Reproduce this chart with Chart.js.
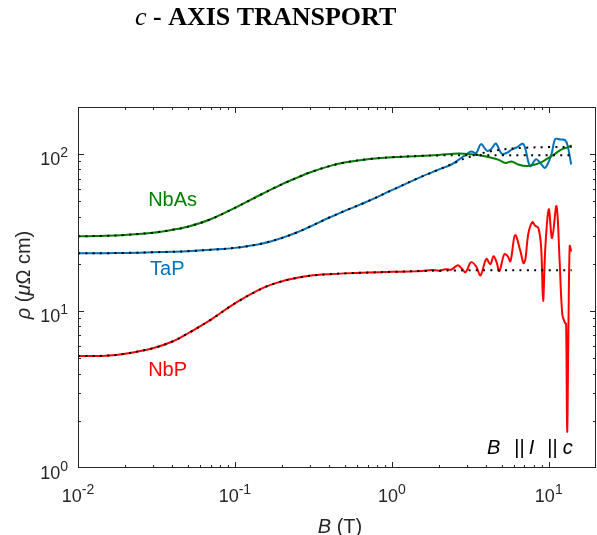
<!DOCTYPE html>
<html>
<head>
<meta charset="utf-8">
<script src="https://cdn.jsdelivr.net/npm/chart.js@4.4.0/dist/chart.umd.min.js"></script>
<style>
  html, body { margin: 0; padding: 0; background: #fff; }
  #wrap { width: 597px; height: 535px; position: relative; }
</style>
</head>
<body>
<div id="wrap"><canvas id="c" width="597" height="535"></canvas></div>
<script>
// field B in tesla, resistivity rho in micro-ohm cm
var nbasField = [0.01, 0.015, 0.02, 0.03, 0.04, 0.05, 0.07, 0.1, 0.15, 0.2, 0.25, 0.3, 0.4, 0.5, 0.7, 1, 1.5, 2, 2.66, 3.2, 3.7, 4.3, 4.8, 5.3, 5.8, 6.4, 7.2, 8.2, 9, 10, 11, 12, 13.3, 14];
var nbasRho = [30, 30.2, 30.6, 31.6, 33, 34.5, 38.5, 45.5, 56, 64.5, 71, 76.5, 84, 88.5, 93, 95.7, 97.5, 99, 101, 100, 98, 95, 92, 88, 90, 86, 84, 86, 89, 95, 101, 107, 111, 114];

var tapField = [0.01, 0.015, 0.02, 0.03, 0.04, 0.05, 0.07, 0.1, 0.15, 0.2, 0.25, 0.3, 0.4, 0.5, 0.7, 1, 1.5, 2, 2.4, 2.7, 2.95, 3.2, 3.45, 3.7, 4.05, 4.3, 4.6, 5.0, 5.4, 5.8, 6.2, 6.9, 7.6, 8.3, 8.9, 9.5, 10.4, 11, 11.8, 12.7, 13.2, 13.9];
var tapRho = [23.4, 23.4, 23.5, 23.7, 23.9, 24.1, 24.6, 25.3, 27, 29.3, 31.8, 34.5, 39.5, 43.5, 50, 59, 71, 80, 86, 93, 99, 104, 102, 116, 105, 108, 117, 101, 102, 107, 110, 116, 84, 93, 87, 82, 100, 125, 124, 123, 113, 86];

var nbpField = [0.01, 0.015, 0.02, 0.03, 0.04, 0.05, 0.07, 0.1, 0.15, 0.2, 0.25, 0.3, 0.4, 0.5, 0.7, 1, 1.3, 1.55, 1.8, 2.0, 2.2, 2.4, 2.63, 2.8, 2.95, 3.2, 3.45, 3.67, 4.0, 4.24, 4.45, 4.65, 4.85, 5.2, 5.45, 5.7, 6.1, 6.6, 6.9, 7.1, 7.4, 7.85, 8.2, 8.6, 8.95, 9.2, 9.5, 10, 10.5, 11.2, 11.7, 12.2, 12.7, 12.9, 13.1, 13.35, 13.6, 13.9];
var nbpRho = [5.17, 5.2, 5.35, 5.8, 6.4, 7.2, 8.8, 11.2, 14, 15.5, 16.3, 16.8, 17.2, 17.4, 17.6, 17.8, 17.9, 18.0, 18.3, 18.1, 18.5, 18.4, 19.6, 18.6, 17.7, 20.5, 19.2, 16.9, 21.5, 19.9, 22.4, 20.5, 18.0, 23.0, 22.5, 20.8, 30.5, 24.1, 20.2, 21.5, 30.9, 36.9, 35, 33.8, 25.2, 11.6, 25, 44.6, 29.2, 46.7, 22, 9.5, 8.4, 8.3, 1.7, 8, 26, 24];

// fitted curves (dotted)
var fitField = [0.01, 0.015, 0.02, 0.03, 0.04, 0.05, 0.07, 0.1, 0.15, 0.2, 0.25, 0.3, 0.4, 0.5, 0.7, 1, 1.5, 2, 2.5, 3, 4, 5, 7, 10, 14];
var nbasFit = [30, 30.2, 30.6, 31.6, 33, 34.5, 38.5, 45.5, 56, 64.5, 71, 76.5, 84, 88.5, 93, 95.7, 97.5, 98.3, 98.5, 98.6, 98.6, 98.6, 98.6, 98.6, 98.6];
var tapFit = [23.4, 23.4, 23.5, 23.7, 23.9, 24.1, 24.6, 25.3, 27, 29.3, 31.8, 34.5, 39.5, 43.5, 50, 59, 71, 80, 88, 95, 103, 107, 110, 111, 111.5];
var nbpFit = [5.17, 5.2, 5.35, 5.8, 6.4, 7.2, 8.8, 11.2, 14, 15.5, 16.3, 16.8, 17.2, 17.4, 17.6, 17.8, 18, 18.1, 18.15, 18.2, 18.2, 18.2, 18.2, 18.2, 18.2];

var seriesNames = ['NbAs', 'TaP', 'NbP'];
var seriesColors = ['#008000', '#0072BD', '#FF0000'];
var xTickExps = [-2, -1, 0, 1];
var yTickExps = [0, 1, 2];

// where the sample names sit, in data space
var nameAt = { NbAs: [0.028, 46.7], TaP: [0.0288, 16.9], NbP: [0.028, 3.87] };

var ink = '#262626';
var sans = '"Liberation Sans", Arial, sans-serif';

function pts(xs, ys) {
  return xs.map(function(x, i) { return { x: x, y: ys[i] }; });
}

function dataLine(field, rho, color) {
  return {
    data: pts(field, rho),
    borderColor: color,
    borderWidth: 2,
    pointRadius: 0,
    showLine: true,
    tension: 0.35,
    order: 2
  };
}

function fitLine(values) {
  return {
    data: pts(fitField, values),
    borderColor: '#000',
    borderWidth: 2,
    borderDash: [2, 5.3],
    pointRadius: 0,
    showLine: true,
    tension: 0.35,
    order: 1
  };
}

// draws "10" with a raised exponent
function powLabel(ctx, exp, x, y, align) {
  var base = '10', sup = String(exp);
  ctx.font = '18px ' + sans;
  var bw = ctx.measureText(base).width;
  ctx.font = '14px ' + sans;
  var sw = ctx.measureText(sup).width;
  var left = align === 'center' ? x - (bw + sw) / 2 : x - bw - sw;
  ctx.font = '18px ' + sans;
  ctx.fillText(base, left, y);
  ctx.font = '14px ' + sans;
  ctx.fillText(sup, left + bw, y - 8);
}

// draws a run of [text, italic, gap] pieces starting at x
function runText(ctx, parts, x, y, size) {
  parts.forEach(function(p) {
    ctx.font = (p[1] ? 'italic ' : '') + size + 'px ' + sans;
    ctx.fillText(p[0], x, y);
    x += ctx.measureText(p[0]).width + (p[2] || 0);
  });
}

function runWidth(ctx, parts, size) {
  var w = 0;
  parts.forEach(function(p) {
    ctx.font = (p[1] ? 'italic ' : '') + size + 'px ' + sans;
    w += ctx.measureText(p[0]).width + (p[2] || 0);
  });
  return w;
}

var decor = {
  id: 'decor',
  afterDatasetsDraw: function(chart) {
    var ctx = chart.ctx, a = chart.chartArea;
    var xs = chart.scales.x, ys = chart.scales.y;
    ctx.save();
    ctx.strokeStyle = ink;
    ctx.fillStyle = ink;
    ctx.lineWidth = 1;
    ctx.strokeRect(a.left + 0.5, a.top + 0.5, a.right - a.left - 1, a.bottom - a.top - 1);

    // inward ticks on all four sides
    ctx.beginPath();
    var d, m, v, p, len;
    for (d = -2; d <= 1; d++) {
      for (m = 1; m <= 9; m++) {
        v = m * Math.pow(10, d);
        if (v <= xs.min || v >= xs.max) continue;
        p = Math.round(xs.getPixelForValue(v)) + 0.5;
        len = m === 1 ? 6 : 3;
        ctx.moveTo(p, a.bottom); ctx.lineTo(p, a.bottom - len);
        ctx.moveTo(p, a.top); ctx.lineTo(p, a.top + len);
      }
    }
    for (d = 0; d <= 2; d++) {
      for (m = 1; m <= 9; m++) {
        v = m * Math.pow(10, d);
        if (v <= ys.min || v >= ys.max) continue;
        p = Math.round(ys.getPixelForValue(v)) + 0.5;
        len = m === 1 ? 6 : 3;
        ctx.moveTo(a.left, p); ctx.lineTo(a.left + len, p);
        ctx.moveTo(a.right, p); ctx.lineTo(a.right - len, p);
      }
    }
    ctx.stroke();

    // tick labels
    ctx.textBaseline = 'alphabetic';
    xTickExps.forEach(function(e) {
      powLabel(ctx, e, xs.getPixelForValue(Math.pow(10, e)), 502, 'center');
    });
    yTickExps.forEach(function(e) {
      powLabel(ctx, e, a.left - 10, ys.getPixelForValue(Math.pow(10, e)) + 11, 'right');
    });

    // axis titles
    var xt = [['B', true], [' (T)', false]];
    runText(ctx, xt, 340 - runWidth(ctx, xt, 20) / 2, 533, 20);
    var yt = [['\u03c1', true], [' (', false], ['\u03bc', true], ['\u03a9 cm)', false]];
    ctx.save();
    ctx.translate(30, 275);
    ctx.rotate(-Math.PI / 2);
    runText(ctx, yt, -runWidth(ctx, yt, 20) / 2, 0, 20);
    ctx.restore();

    // sample names
    seriesNames.forEach(function(n, i) {
      ctx.fillStyle = seriesColors[i];
      ctx.font = '20px ' + sans;
      ctx.fillText(n, xs.getPixelForValue(nameAt[n][0]), ys.getPixelForValue(nameAt[n][1]));
    });

    // geometry note
    ctx.fillStyle = '#000';
    runText(ctx, [['B', true, 14], ['||', false, 4], ['I', true, 13], ['||', false, 5], ['c', true]], 487, 454, 20);

    // title
    ctx.font = 'italic 26px "Liberation Serif", serif';
    ctx.fillText('c', 135, 25);
    var cw = ctx.measureText('c').width;
    ctx.font = 'bold 26px "Liberation Serif", serif';
    ctx.fillText(' - AXIS TRANSPORT', 135 + cw, 25);
    ctx.restore();
  }
};

new Chart(document.getElementById('c'), {
  type: 'scatter',
  data: {
    datasets: [
      dataLine(nbasField, nbasRho, seriesColors[0]),
      dataLine(tapField, tapRho, seriesColors[1]),
      dataLine(nbpField, nbpRho, seriesColors[2]),
      fitLine(nbasFit),
      fitLine(tapFit),
      fitLine(nbpFit)
    ]
  },
  options: {
    responsive: false,
    animation: false,
    layout: { padding: { left: 78, right: 1, top: 107, bottom: 67 } },
    plugins: { legend: { display: false }, tooltip: { enabled: false } },
    scales: {
      x: { type: 'logarithmic', min: 0.01, max: 20, display: false },
      y: { type: 'logarithmic', min: 1, max: 200, display: false }
    }
  },
  plugins: [decor]
});
</script>
</body>
</html>
